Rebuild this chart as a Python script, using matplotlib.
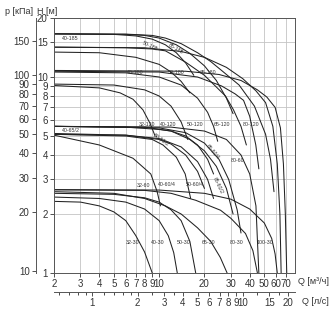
import matplotlib
matplotlib.use('agg')
import matplotlib.pyplot as plt
from matplotlib.ticker import NullLocator, NullFormatter

plt.rcParams['font.family'] = ['Liberation Sans', 'DejaVu Sans']

# pump curves, Q [m3/h] vs H [m]
names_185 = ["40-185", "50-185", "65-185"]
q_185 = [[2, 5, 7, 9, 11, 13, 15, 17],
         [2, 6, 8, 10, 13, 16, 20, 24, 28, 31],
         [2, 6, 9, 11, 14, 18, 22, 26, 34, 43, 51, 55, 58]]
h_185 = [[16.6, 16.5, 16.2, 15.6, 14.6, 13.3, 11.8, 10.2],
         [16.6, 16.5, 16.3, 15.8, 14.6, 13.2, 11.4, 9.6, 7.8, 6.5],
         [16.6, 16.55, 16.3, 15.8, 14.8, 13.3, 12.0, 10.8, 9.1, 7.1, 5.1, 3.8, 2.6]]

names_180 = ["40-180", "50-180", "65-180"]
q_180 = [[2, 4, 7, 10, 12, 14, 16],
         [2, 6, 9, 11, 15, 20, 27.6, 31.2, 35, 38],
         [2, 8, 14, 20, 28, 36, 44, 51, 57, 61, 63.5, 64.7]]
h_180 = [[13.4, 13.3, 12.6, 11.6, 10.6, 9.5, 8.3],
         [14.2, 14.1, 13.9, 13.6, 11.9, 10.2, 8.0, 6.8, 5.6, 4.5],
         [14.2, 14.1, 13.5, 12.6, 11.2, 9.8, 8.5, 7.4, 5.6, 3.6, 2.0, 1.0]]

names_120 = ["32-120", "40-120", "50-120", "65-120", "80-120"]
q_120 = [[2, 4, 5.5, 6.7, 7.8, 8.7, 9.4],
         [2, 5, 8, 10, 12, 14, 15.5],
         [2, 6, 10, 14, 18, 21, 23, 24.5],
         [2, 10, 18, 26, 32, 36.4, 40, 43.9, 46],
         [2, 15, 25, 35, 45, 52, 59, 64, 67, 69, 70.5]]
h_120 = [[9.05, 8.8, 8.3, 7.7, 6.8, 5.8, 5.0],
         [9.2, 9.1, 8.6, 8.0, 7.1, 5.9, 4.8],
         [10.6, 10.5, 10.0, 9.1, 7.8, 6.6, 5.6, 4.7],
         [10.7, 10.6, 10.0, 9.0, 8.2, 7.6, 6.3, 4.5, 3.4],
         [10.8, 10.7, 10.3, 9.6, 8.6, 7.9, 7.0, 5.5, 3.6, 2.0, 1.0]]

names_60 = ["32-60", "40-60/4", "50-60/4", "50-60/2", "65-60/4", "65-60/2", "80-60", "40-65/2"]
q_60 = [[2, 4, 6.7, 8.8, 9.7, 10.2],
        [2, 6, 9, 10.6, 13, 14.9, 16.2],
        [2, 6, 10, 14, 18, 21, 23],
        [2, 6, 10, 12, 15, 18, 20],
        [2, 8, 12, 16, 20, 24, 28, 31],
        [2, 10, 15, 20, 25, 29, 33, 35],
        [2, 12, 20, 28, 35, 40, 44, 46],
        [2, 6, 10, 12, 15, 18, 21, 23]]
h_60 = [[5.05, 4.5, 3.85, 3.2, 2.6, 2.2],
        [5.1, 5.0, 4.8, 4.5, 3.9, 3.2, 2.4],
        [5.1, 5.05, 4.85, 4.4, 3.7, 3.0, 2.4],
        [5.15, 5.05, 4.8, 4.55, 4.0, 3.3, 2.7],
        [5.6, 5.55, 5.3, 4.8, 4.2, 3.5, 2.7, 2.0],
        [5.6, 5.5, 5.2, 4.6, 3.8, 3.0, 2.1, 1.6],
        [5.6, 5.55, 5.3, 4.8, 4.0, 3.2, 2.2, 1.0],
        [5.6, 5.55, 5.4, 5.3, 5.0, 4.5, 3.8, 3.2]]

names_30 = ["32-30", "40-30", "50-30", "65-30", "80-30", "100-30"]
q_30 = [[2, 3, 4, 5, 6, 7, 8, 9],
        [2, 4, 6, 8, 10, 11.5, 12.5, 13.2],
        [2, 5, 8, 10, 12, 14, 16, 17.5],
        [2, 5, 8, 11, 14, 18, 22, 25.5, 28.3],
        [2, 8, 12, 17.5, 25.6, 30, 37.5, 42, 45],
        [2, 10, 20, 30, 40, 50, 56, 59, 61]]
h_30 = [[2.32, 2.3, 2.2, 2.05, 1.85, 1.55, 1.28, 1.0],
        [2.44, 2.4, 2.3, 2.12, 1.85, 1.55, 1.27, 1.0],
        [2.55, 2.52, 2.42, 2.3, 2.1, 1.85, 1.45, 1.0],
        [2.6, 2.55, 2.4, 2.2, 2.0, 1.7, 1.45, 1.2, 1.0],
        [2.66, 2.64, 2.55, 2.35, 2.09, 1.9, 1.59, 1.3, 1.0],
        [2.66, 2.65, 2.55, 2.38, 2.12, 1.8, 1.5, 1.25, 1.0]]

# curve labels: text, Q, H, rotation
lab_text = ["40-185", "50-185", "65-185", "40-180", "50-180", "65-180",
            "32-120", "40-120", "50-120", "65-120", "80-120",
            "40-65/2", "50-60/2", "65-60/4", "80-60", "32-60", "40-60/4", "50-60/4", "65-60/2",
            "32-30", "40-30", "50-30", "65-30", "80-30", "100-30"]
lab_q = [2.56, 8.7, 12.8, 6.9, 13.0, 21.0,
         8.3, 11.5, 17.4, 26.2, 41.0,
         2.6, 10.3, 22.6, 33.0, 7.85, 11.3, 17.3, 24.4,
         6.7, 9.8, 14.5, 21.3, 32.6, 50.6]
lab_h = [15.7, 14.3, 14.0, 10.6, 10.6, 10.6,
         5.74, 5.74, 5.74, 5.74, 5.74,
         5.35, 4.75, 4.13, 3.76, 2.8, 2.83, 2.83, 2.8,
         1.43, 1.43, 1.43, 1.43, 1.43, 1.43]
lab_rot = [0, -25, -30, 0, 0, 0,
           0, 0, 0, 0, 0,
           0, -35, -50, 0, 0, 0, 0, -65,
           0, 0, 0, 0, 0, 0]

h_ticks = [1, 2, 3, 4, 5, 6, 7, 8, 9, 10, 15, 20]
p_ticks = [10, 20, 30, 40, 50, 60, 70, 80, 90, 100, 150]
q_ticks = [2, 3, 4, 5, 6, 7, 8, 9, 10, 20, 30, 40, 50, 60, 70]
ls_ticks = [1, 2, 3, 4, 5, 6, 7, 8, 9, 10, 15, 20]
ls_minor = [0.6, 0.7, 0.8, 0.9, 1.2, 1.4, 1.6, 1.8, 2.5, 3.5, 12.5, 17.5]

fig = plt.figure(figsize=(3.35, 3.2), dpi=100)
ax = fig.add_axes([54/335, 1-273/320, 241/335, 255/320])
ax.set_xscale('log')
ax.set_yscale('log')
ax.set_xlim(2, 80)
ax.set_ylim(1, 20)

for qs, hs in zip(q_185 + q_180 + q_120 + q_60 + q_30, h_185 + h_180 + h_120 + h_60 + h_30):
    ax.plot(qs, hs, color='#222222', lw=0.75, solid_capstyle='round', solid_joinstyle='round')

for t, q, h, r in zip(lab_text, lab_q, lab_h, lab_rot):
    ax.text(q, h, t, fontsize=3.8, ha='center', va='center', rotation=r, color='#333333')

ax.set_xticks(q_ticks)
ax.set_xticklabels([str(v) for v in q_ticks])
ax.set_yticks(h_ticks)
ax.set_yticklabels([str(v) for v in h_ticks])
ax.xaxis.set_minor_locator(NullLocator())
ax.yaxis.set_minor_locator(NullLocator())
ax.tick_params(labelsize=7, length=3, width=0.6, pad=1.5, colors='#333333')
ax.grid(True, color='#c4c4c4', lw=0.6)
for s in ax.spines.values():
    s.set_color('#555555')
    s.set_linewidth(0.7)

secy = ax.secondary_yaxis(-0.075, functions=(lambda h: h*9.81, lambda p: p/9.81))
secy.set_yticks(p_ticks)
secy.set_yticklabels([str(v) for v in p_ticks])
secy.yaxis.set_minor_locator(NullLocator())
secy.yaxis.set_minor_formatter(NullFormatter())
secy.tick_params(labelsize=7, length=3, width=0.6, pad=1.5, colors='#333333')
secy.spines['left'].set_color('#555555')
secy.spines['left'].set_linewidth(0.7)

secx = ax.secondary_xaxis(-0.075, functions=(lambda q: q/3.6, lambda q: q*3.6))
secx.set_xticks(ls_ticks)
secx.set_xticklabels([str(v) for v in ls_ticks])
secx.set_xticks(ls_minor, minor=True)
secx.xaxis.set_minor_formatter(NullFormatter())
secx.tick_params(labelsize=7, length=3, width=0.6, pad=1.5, colors='#333333')
secx.tick_params(which='minor', length=1.8, width=0.5)
secx.spines['bottom'].set_color('#555555')
secx.spines['bottom'].set_linewidth(0.7)

fig.text(5/335, 1-11/320, "p [кПа]", fontsize=6.5, va='center', color='#333333')
fig.text(37/335, 1-11/320, "H [м]", fontsize=6.5, va='center', color='#333333')
fig.text(298/335, 1-282/320, "Q [м³/ч]", fontsize=6.5, va='center', color='#333333')
fig.text(302/335, 1-301/320, "Q [л/с]", fontsize=6.5, va='center', color='#333333')

fig.savefig("out.png", dpi=100)
